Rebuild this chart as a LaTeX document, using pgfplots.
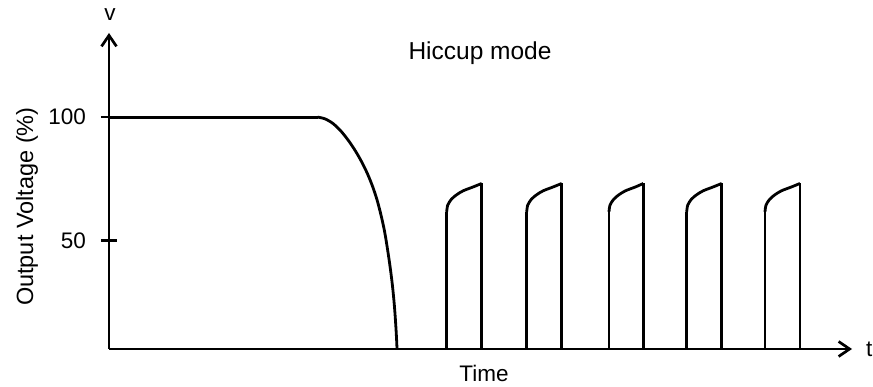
\documentclass[border=0pt]{standalone}
\usepackage{fontspec}
\setmainfont{Liberation Sans}
\usepackage{pgfplots}
\pgfplotsset{compat=1.18}
\usetikzlibrary{arrows.meta}

\newcommand{\lbl}{\fontsize{22.5}{27}\selectfont}
\tikzset{curve/.style={line width=2.8pt, black, line join=round, mark=none}}

\begin{document}
\begin{tikzpicture}
\useasboundingbox (0,0) rectangle (873pt,387pt);
\begin{axis}[
  at={(109pt,38pt)}, anchor=south west,
  scale only axis,
  width=743pt, height=316pt,
  xmin=0, xmax=743,
  ymin=6, ymax=134.1,
  axis lines=left,
  axis line style={line width=2.7pt, -{Straight Barb[length=11pt,width=15pt]}},
  xtick=\empty,
  ytick={50,100},
  yticklabels={50,100},
  tick align=center,
  major tick length=16pt,
  tick style={line width=2.7pt, black},
  yticklabel style={anchor=east, inner sep=0pt},
  yticklabel shift=15pt,
  ticklabel style={font=\lbl},
  unbounded coords=jump,
  clip=false,
]
% normal output
\addplot[curve] coordinates {(0,100) (208.7,100)};
% fall after the short circuit
\addplot[curve, smooth] coordinates {
  (208.7,100) (216,99.3) (224,97.4) (232,94.3) (240,90.2) (247,85.9)
  (253,81.6) (258.5,77) (263.5,72) (268,66.5) (272,60.3) (275.5,53.8)
  (278.5,46.5) (281.2,39) (283.5,31.5) (285.4,23.5) (286.8,15.5) (287.7,9) (288,6)
};
% hiccup restarts: rising and falling edges
\addplot[curve] coordinates {
  (337.7,6) (337.7,61.6) (nan,nan) (372.7,73.1) (372.7,6) (nan,nan)
  (417.7,6) (417.7,61.6) (nan,nan) (452.7,73.1) (452.7,6) (nan,nan)
  (500,6) (500,61.6) (nan,nan) (534.3,73.1) (534.3,6) (nan,nan)
  (577.7,6) (577.7,61.6) (nan,nan) (612.7,73.1) (612.7,6) (nan,nan)
  (656,6) (656,61.6) (nan,nan) (691,73.1) (691,6)
};
% hiccup restarts: tops
\addplot[curve, smooth] coordinates {
  (337.7,61.6) (338.7,64.3) (342.2,66.6) (347.2,68.4) (354,70.1) (364.2,71.7) (372.7,73.1) (nan,nan)
  (417.7,61.6) (418.7,64.3) (422.2,66.6) (427.2,68.4) (434,70.1) (444.2,71.7) (452.7,73.1) (nan,nan)
  (500,61.6) (501,64.3) (504.5,66.6) (509.5,68.4) (516.3,70.1) (526.5,71.7) (534.3,73.1) (nan,nan)
  (577.7,61.6) (578.7,64.3) (582.2,66.6) (587.2,68.4) (594,70.1) (604.2,71.7) (612.7,73.1) (nan,nan)
  (656,61.6) (657,64.3) (660.5,66.6) (665.5,68.4) (672.3,70.1) (682.5,71.7) (691,73.1)
};
\end{axis}
\node[anchor=base, font=\lbl] at (110pt,366pt) {v};
\node[anchor=base west, font=\lbl, inner sep=0pt] at (866pt,30pt) {t};
\node[anchor=base, font=\lbl, inner sep=0pt] at (484pt,5.3pt) {Time};
\node[anchor=base, inner sep=0pt, font=\fontsize{24.5}{29}\selectfont] at (480pt,327.7pt) {Hiccup mode};
\node[anchor=base, rotate=90, inner sep=0pt, font=\fontsize{23.5}{28}\selectfont] at (33pt,180.3pt) {Output Voltage (\%)};
\end{tikzpicture}
\end{document}
